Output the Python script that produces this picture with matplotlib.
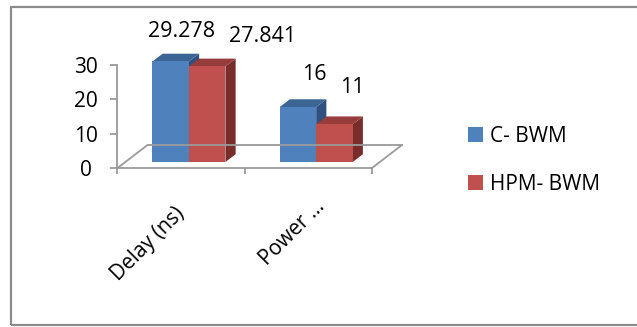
import matplotlib
matplotlib.use("Agg")
import matplotlib.pyplot as plt
import matplotlib.transforms as mtransforms
from matplotlib.patches import Polygon, Rectangle, Patch
from matplotlib.lines import Line2D

plt.rcParams['font.family'] = ['Open Sans', 'DejaVu Sans']

# data
categories = ['Delay (ns)', 'Power …']
series_names = ['C- BWM', 'HPM- BWM']
c_bwm = [29.278, 16]
hpm_bwm = [27.841, 11]
label_texts = [['29.278', '16'], ['27.841', '11']]
yticks = [0, 10, 20, 30]

# styles
front_cols = ['#4f81bd', '#c0504d']
top_cols = ['#3b6594', '#963c3a']
side_cols = ['#2f5080', '#782d2b']
grey = '#9a9a9a'

W, H = 637, 327
fig = plt.figure(figsize=(W / 100, H / 100), dpi=100)

# plot area in pixels (front floor edge)
px_l, px_r, px_b, px_t = 117.5, 372.0, 168.0, 65.0
ax = fig.add_axes([px_l / W, 1 - px_b / H, (px_r - px_l) / W, (px_b - px_t) / H])
ax.set_xlim(-0.5, 1.5)
ax.set_ylim(0, 30)
ax.patch.set_visible(False)

# 3d depth in data units
DX = 30 / ((px_r - px_l) / 2)     # floor depth along x
DY = 23 / ((px_b - px_t) / 30)    # floor depth along y
d0, bd = 0.26, 0.34               # bar start depth & bar depth (fraction of floor)
bw = 0.287

# floor (other three edges)
for xs, ys in [([-0.5, -0.5 + DX], [0, DY]),
               ([-0.5 + DX, 1.5 + DX], [DY, DY]),
               ([1.5, 1.5 + DX], [0, DY])]:
    ax.add_line(Line2D(xs, ys, color=grey, lw=1.3, clip_on=False))

series = [c_bwm, hpm_bwm]
label_dx = [[11, 16], [55, 18]]
label_dy = [[30, 33], [30, 37]]
for i in range(len(categories)):
    for s, vals in enumerate(series):
        v = vals[i]
        x0 = i - bw + s * bw + d0 * DX
        y0 = d0 * DY
        ddx, ddy = bd * DX, bd * DY
        front = Rectangle((x0, y0), bw, v, fc=front_cols[s], ec='none', clip_on=False)
        top = Polygon([(x0, y0 + v), (x0 + bw, y0 + v), (x0 + bw + ddx, y0 + v + ddy),
                       (x0 + ddx, y0 + v + ddy)], fc=top_cols[s], ec='none', clip_on=False)
        side = Polygon([(x0 + bw, y0), (x0 + bw, y0 + v), (x0 + bw + ddx, y0 + v + ddy),
                        (x0 + bw + ddx, y0 + ddy)], fc=side_cols[s], ec='none', clip_on=False)
        for p in (side, top, front):
            ax.add_patch(p)
        ax.annotate(label_texts[s][i], (x0 + bw / 2, y0 + v),
                    xytext=(label_dx[s][i] * 0.72, label_dy[s][i] * 0.72),
                    textcoords='offset points', ha='center', va='center',
                    fontsize=15.5, annotation_clip=False)

# axes styling
for sp in ['top', 'right']:
    ax.spines[sp].set_visible(False)
ax.spines['left'].set_color(grey)
ax.spines['bottom'].set_color(grey)
ax.spines['left'].set_linewidth(1.3)
ax.spines['bottom'].set_linewidth(1.3)

ax.set_yticks(yticks)
ax.tick_params(axis='y', direction='out', length=5, width=1.3, color=grey,
               labelsize=15, pad=18)
for lab in ax.get_yticklabels():
    lab.set_horizontalalignment('center')

ax.set_xticks([-0.5, 0.5, 1.5], minor=True)
ax.set_xticks(range(len(categories)))
ax.set_xticklabels(categories, rotation=45, ha='right', va='center',
                   rotation_mode='anchor', fontsize=15)
ax.tick_params(axis='x', which='major', length=0, pad=31)
ax.tick_params(axis='x', which='minor', direction='out', length=4.5, width=1.3, color=grey)
# excel nudges the truncated label up/right
xl = ax.get_xticklabels()
xl[1].set_transform(xl[1].get_transform() +
                    mtransforms.ScaledTranslation(13 / 100, 8 / 100, fig.dpi_scale_trans))

# legend
handles = [Patch(fc=c, ec='none') for c in front_cols]
fig.legend(handles, series_names, loc='upper left',
           bbox_to_anchor=(468 / W, 1 - 126 / H), frameon=False, fontsize=15,
           handlelength=0.7, handleheight=0.7, handletextpad=0.35,
           labelspacing=1.3, borderpad=0, borderaxespad=0)

# chart border
fig.add_artist(Rectangle((11 / W, 2 / H), 1, 1 - 9 / H, transform=fig.transFigure,
                         fill=False, ec='#8c8c8c', lw=1.6))

fig.savefig('out.png', dpi=100)
